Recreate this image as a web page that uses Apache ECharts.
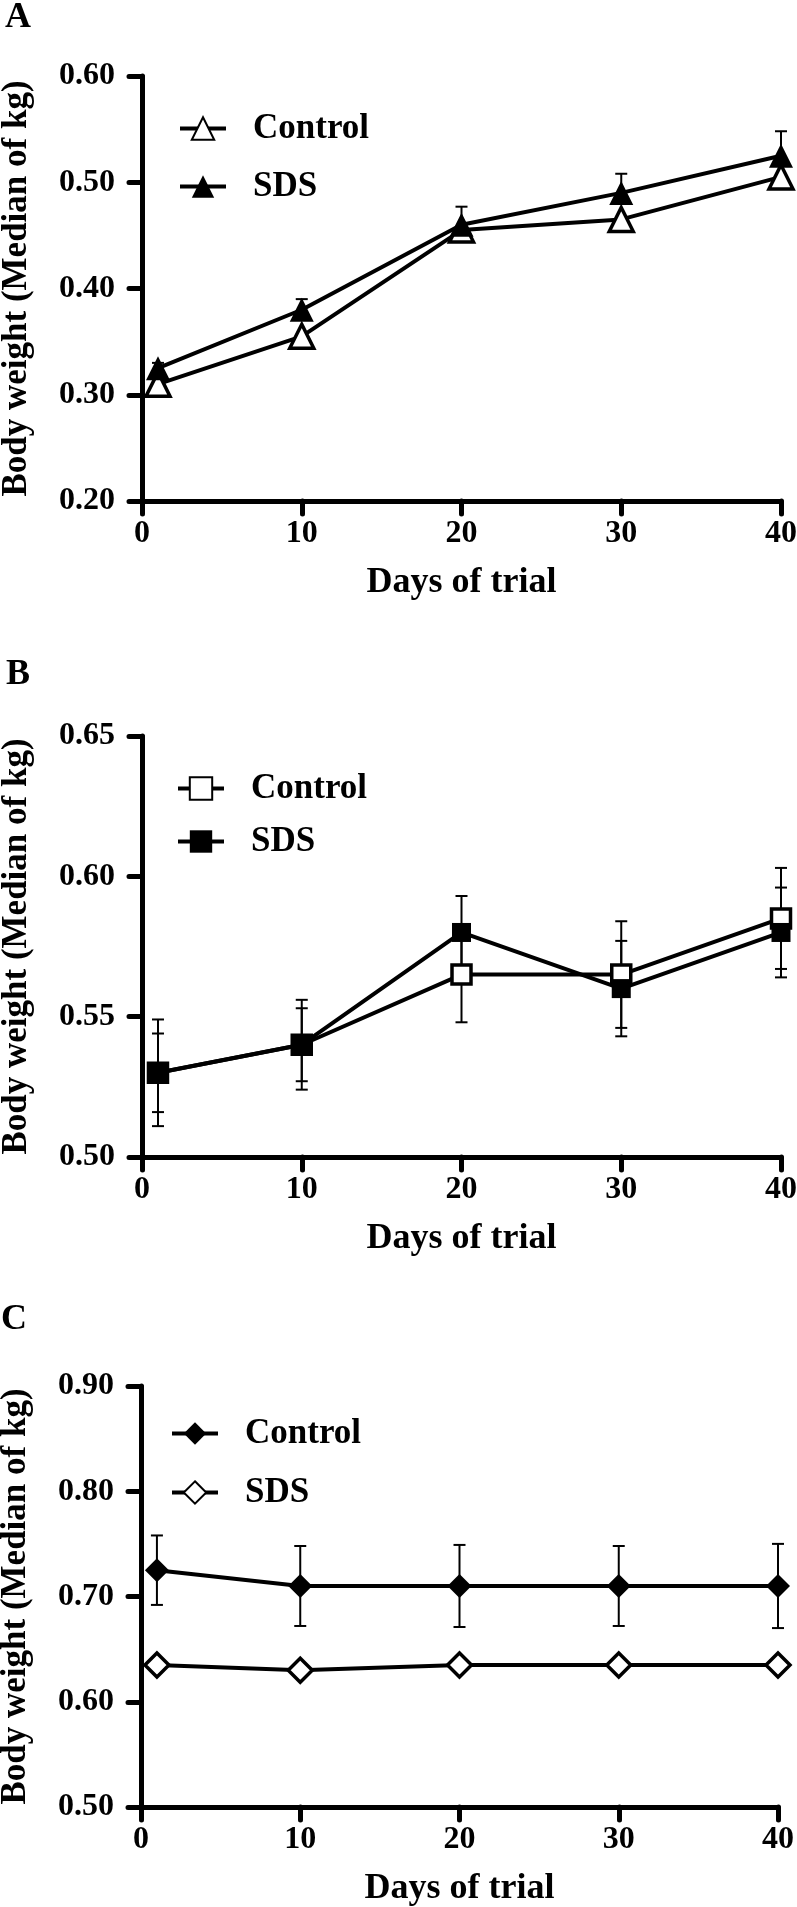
<!DOCTYPE html>
<html><head><meta charset="utf-8">
<script src="https://cdn.jsdelivr.net/npm/echarts@6/dist/echarts.min.js"></script>
<style>html,body{margin:0;padding:0;background:#fff}#c{width:797px;height:1907px}</style>
</head><body><div id="c"></div>
<script>
// ---- data ----
const days = [1, 10, 20, 30, 40];
const seriesNames = ['Control', 'SDS'];
const panelLetters = ['A', 'B', 'C'];
const yTitle = 'Body weight (Median of kg)';
const xTitle = 'Days of trial';

const aControl = [0.31, 0.355, 0.455, 0.465, 0.505];
const aSDS = [0.325, 0.38, 0.46, 0.49, 0.525];
const aSDSErrUp = [0.005, 0.01, 0.017, 0.018, 0.023];

const bControl = [0.53, 0.54, 0.565, 0.565, 0.585];
const bControlErr = [0.019, 0.016, 0.017, 0.019, 0.018];
const bSDS = [0.53, 0.54, 0.58, 0.56, 0.58];
const bSDSErr = [0.014, 0.013, 0.013, 0.017, 0.016];

const cControl = [0.725, 0.71, 0.71, 0.71, 0.71];
const cControlErr = [0.033, 0.038, 0.039, 0.038, 0.04];
const cSDS = [0.635, 0.63, 0.635, 0.635, 0.635];

const yRanges = [[0.2, 0.6, 0.1], [0.5, 0.65, 0.05], [0.5, 0.9, 0.1]];
const xRange = [0, 40, 10];

// ---- layout / style ----
const FONT = 'Liberation Serif';
const grids = [
  {left: 142, top: 76, width: 639, height: 425, outerBoundsMode: 'none', containLabel: false},
  {left: 142, top: 736, width: 639, height: 421, outerBoundsMode: 'none', containLabel: false},
  {left: 141, top: 1386, width: 637, height: 421, outerBoundsMode: 'none', containLabel: false}
];
const letterPos = [{left: 5, top: 0}, {left: 6, top: 657}, {left: 1, top: 1302}];
const legendPos = [{left: 178, top: 111}, {left: 176, top: 771}, {left: 170, top: 1416}];
const legendGaps = [23, 18, 24];

function errRender(params, api) {
  const x = api.value(0), lo = api.value(1), hi = api.value(2), capLo = api.value(3);
  const pLo = api.coord([x, lo]), pHi = api.coord([x, hi]);
  const hw = 6;
  const style = {stroke: '#000', lineWidth: 2};
  const ch = [
    {type: 'line', shape: {x1: pLo[0], y1: pLo[1], x2: pHi[0], y2: pHi[1]}, style: style},
    {type: 'line', shape: {x1: pHi[0] - hw, y1: pHi[1], x2: pHi[0] + hw, y2: pHi[1]}, style: style}
  ];
  if (capLo) ch.push({type: 'line', shape: {x1: pLo[0] - hw, y1: pLo[1], x2: pLo[0] + hw, y2: pLo[1]}, style: style});
  return {type: 'group', children: ch};
}
function errData(vals, errUp, errDown, capLo) {
  return days.map((d, i) => [d, vals[i] - errDown[i], vals[i] + errUp[i], capLo ? 1 : 0]);
}
const zeros = days.map(() => 0);

const xAxes = grids.map((g, i) => ({
  type: 'value', gridIndex: i, min: xRange[0], max: xRange[1], interval: xRange[2],
  name: xTitle, nameLocation: 'middle', nameGap: 64,
  nameTextStyle: {fontFamily: FONT, fontWeight: 'bold', fontSize: 36, color: '#000'},
  axisLine: {onZero: false, lineStyle: {color: '#000', width: 5, cap: 'round'}},
  axisTick: {length: 13, lineStyle: {color: '#000', width: 5, cap: 'round'}},
  axisLabel: {margin: 17, fontFamily: FONT, fontWeight: 'bold', fontSize: 32, color: '#000'},
  splitLine: {show: false}
}));
const yAxes = grids.map((g, i) => ({
  type: 'value', gridIndex: i, min: yRanges[i][0], max: yRanges[i][1], interval: yRanges[i][2],
  name: yTitle, nameLocation: 'middle', nameGap: 108, nameRotate: 90,
  nameTextStyle: {fontFamily: FONT, fontWeight: 'bold', fontSize: 35, color: '#000'},
  axisLine: {onZero: false, lineStyle: {color: '#000', width: 5, cap: 'round'}},
  axisTick: {length: 13, lineStyle: {color: '#000', width: 5, cap: 'round'}},
  axisLabel: {margin: 27, fontFamily: FONT, fontWeight: 'bold', fontSize: 32, color: '#000',
    formatter: v => v.toFixed(2)},
  splitLine: {show: false}
}));

function lineSeries(panel, name, vals, symbol, filled) {
  return {
    type: 'line', name: panelLetters[panel] + '|' + name, xAxisIndex: panel, yAxisIndex: panel,
    data: days.map((d, i) => [d, vals[i]]),
    symbol: symbol, symbolSize: symbol === 'rect' ? 19 : 24,
    lineStyle: {color: '#000', width: 4},
    itemStyle: {color: filled ? '#000' : '#fff', borderColor: '#000', borderWidth: filled ? 0 : 3.5},
    z: 3, animation: false
  };
}
function errSeries(panel, data) {
  return {type: 'custom', xAxisIndex: panel, yAxisIndex: panel, renderItem: errRender,
    data: data, z: 2, animation: false, silent: true};
}

const series = [
  errSeries(0, errData(aSDS, aSDSErrUp, zeros, false)),
  lineSeries(0, seriesNames[0], aControl, 'triangle', false),
  lineSeries(0, seriesNames[1], aSDS, 'triangle', true),
  errSeries(1, errData(bControl, bControlErr, bControlErr, true)),
  errSeries(1, errData(bSDS, bSDSErr, bSDSErr, true)),
  lineSeries(1, seriesNames[0], bControl, 'rect', false),
  lineSeries(1, seriesNames[1], bSDS, 'rect', true),
  errSeries(2, errData(cControl, cControlErr, cControlErr, true)),
  lineSeries(2, seriesNames[0], cControl, 'diamond', true),
  lineSeries(2, seriesNames[1], cSDS, 'diamond', false)
];

const legends = legendPos.map((p, i) => ({
  left: p.left, top: p.top, orient: 'vertical', padding: 0,
  itemWidth: 46, itemHeight: 28, itemGap: legendGaps[i], selectedMode: false,
  data: seriesNames.map(n => panelLetters[i] + '|' + n),
  formatter: n => n.split('|')[1],
  lineStyle: {width: 4, color: '#000'},
  textStyle: {fontFamily: FONT, fontWeight: 'bold', fontSize: 35, color: '#000', lineHeight: 34, padding: [0, 0, 0, 22]}
}));

const titles = letterPos.map((p, i) => ({
  text: panelLetters[i], left: p.left, top: p.top, padding: 0,
  textStyle: {fontFamily: FONT, fontWeight: 'bold', fontSize: 36, color: '#000'}
}));

const chart = echarts.init(document.getElementById('c'), null, {renderer: 'canvas'});
chart.setOption({
  backgroundColor: '#fff', animation: false,
  title: titles, legend: legends, grid: grids, xAxis: xAxes, yAxis: yAxes, series: series
});
</script></body></html>
